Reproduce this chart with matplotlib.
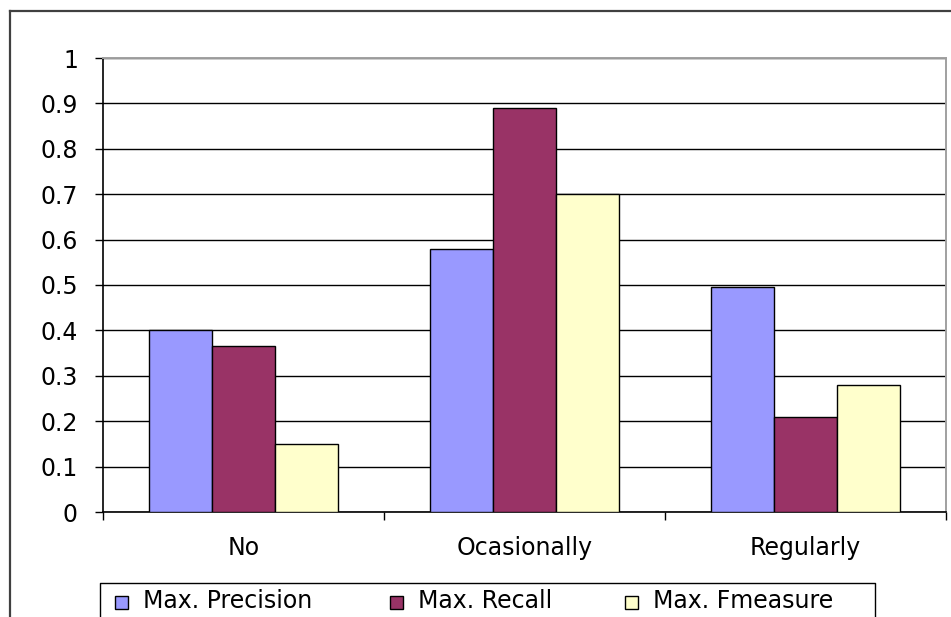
import matplotlib
matplotlib.use("Agg")
import matplotlib.pyplot as plt
import numpy as np
from matplotlib.patches import Rectangle
from matplotlib.lines import Line2D

categories = ["No", "Ocasionally", "Regularly"]
series = ["Max. Precision", "Max. Recall", "Max. Fmeasure"]
precision = [0.40, 0.58, 0.495]
recall = [0.365, 0.89, 0.21]
fmeasure = [0.15, 0.70, 0.28]
colors = ["#9999FF", "#993366", "#FFFFCC"]
yticks = [0, 0.1, 0.2, 0.3, 0.4, 0.5, 0.6, 0.7, 0.8, 0.9, 1]
ytick_labels = ["0", "0.1", "0.2", "0.3", "0.4", "0.5", "0.6", "0.7", "0.8", "0.9", "1"]

W, H = 951, 617
FS = 17

fig = plt.figure(figsize=(W / 100, H / 100), dpi=100)
ax = fig.add_axes([103 / W, 1 - 512 / H, (946 - 103) / W, (512 - 58) / H])

x = np.arange(len(categories))
width = 0.224
values = [precision, recall, fmeasure]
for i, vals in enumerate(values):
    ax.bar(x + (i - 1) * width, vals, width, color=colors[i],
           edgecolor="black", linewidth=1.0, zorder=3)

ax.set_xlim(-0.5, 2.5)
ax.set_ylim(0, 1)

# y axis
ax.set_yticks(yticks)
ax.set_yticklabels(ytick_labels, fontsize=FS, family="DejaVu Sans")
ax.tick_params(axis="y", direction="out", length=6, width=1.0, pad=12, colors="black")
ax.yaxis.grid(True, color="black", linewidth=1.0, zorder=0)

# x axis: ticks at category boundaries, labels at centers
ax.set_xticks([-0.5, 0.5, 1.5, 2.5])
ax.set_xticklabels([])
ax.tick_params(axis="x", which="major", direction="out", length=6, width=1.0)
ax.set_xticks(x, minor=True)
ax.set_xticklabels(categories, minor=True, fontsize=FS, family="DejaVu Sans")
ax.tick_params(axis="x", which="minor", length=0, pad=17)

for side in ["left", "bottom"]:
    ax.spines[side].set_color("black")
    ax.spines[side].set_linewidth(1.2)
for side in ["top", "right"]:
    ax.spines[side].set_color("#a0a0a0")
    ax.spines[side].set_linewidth(1.4)
ax.set_axisbelow(True)

# outer chart border (cropped at right and bottom)
def fx(px):
    return px / W

def fy(py):
    return 1 - py / H

fig.add_artist(Line2D([fx(10), fx(10)], [fy(11), fy(H + 5)], color="#404040", linewidth=1.6))
fig.add_artist(Line2D([fx(10), fx(W + 5)], [fy(11), fy(11)], color="#404040", linewidth=1.6))

# legend box (cropped at bottom)
fig.add_artist(Line2D([fx(100), fx(100), fx(875), fx(875)],
                      [fy(H + 5), fy(583), fy(583), fy(H + 5)],
                      color="black", linewidth=1.0))

sq_x = [115, 390, 625]
txt_x = [143, 418, 653]
for i, name in enumerate(series):
    fig.add_artist(Rectangle((fx(sq_x[i]), fy(609)), 13 / W, 13 / H,
                             facecolor=colors[i], edgecolor="black", linewidth=1.0))
    fig.text(fx(txt_x[i]), fy(601), name, fontsize=FS, family="DejaVu Sans",
             va="center", ha="left")

fig.savefig("out.png", dpi=100)
